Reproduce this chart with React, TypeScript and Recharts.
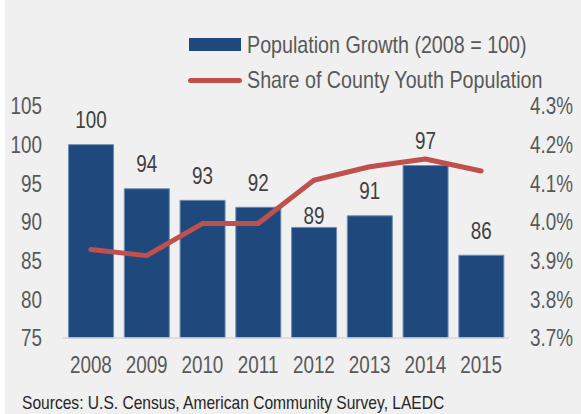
import React from "react";
import {
  ComposedChart,
  Bar,
  Line,
  XAxis,
  YAxis,
  LabelList,
} from "recharts";

// years shown on the x axis
const years = ["2008", "2009", "2010", "2011", "2012", "2013", "2014", "2015"];
// Population Growth (2008 = 100)
const growth = [100, 94.3, 92.8, 91.9, 89.3, 90.8, 97.3, 85.7];
// Share of County Youth Population, in percent
const youthShare = [3.929, 3.913, 3.996, 3.996, 4.108, 4.143, 4.163, 4.132];

const leftTicks = [75, 80, 85, 90, 95, 100, 105];
const rightTicks = [3.7, 3.8, 3.9, 4.0, 4.1, 4.2, 4.3];

// no Arial Narrow here, so squeeze Liberation Sans horizontally
const FONT = '"Liberation Sans", Arial, sans-serif';
const NARROW = 0.82;
const BLUE = "#1F497D";
const RED = "#C0504D";
const GREY = "#595959";

const data = years.map((year, i) => ({
  year,
  growth: growth[i],
  share: youthShare[i],
}));

// the 2012 label sits closer to its bar in the original
const labelOffset = (index: number) => (index === 4 ? 3.5 : 16.5);

const NarrowText = ({ x, y, anchor, dy, size, fill, children }: any) => (
  <g transform={`translate(${x},${y})`}>
    <text
      transform={`scale(${NARROW},1)`}
      textAnchor={anchor}
      dy={dy}
      fill={fill}
      fontSize={size}
      fontFamily={FONT}
    >
      {children}
    </text>
  </g>
);

const BarLabel = (props: any) => {
  const { x, y, width, value, index } = props;
  return (
    <NarrowText x={x + width / 2} y={y - labelOffset(index)} anchor="middle" size={23} fill="#404040">
      {Math.round(value)}
    </NarrowText>
  );
};

const makeTick = (anchor: string, dy: string, fmt: (v: any) => string) => (props: any) => (
  <NarrowText x={props.x} y={props.y} anchor={anchor} dy={dy} size={23} fill={GREY}>
    {fmt(props.payload.value)}
  </NarrowText>
);

const XTick = makeTick("middle", "0.71em", (v) => String(v));
const LeftTick = makeTick("end", "0.355em", (v) => String(v));
const RightTick = makeTick("start", "0.355em", (v) => `${Number(v).toFixed(1)}%`);

const legendText: React.CSSProperties = {
  position: "absolute",
  left: 247,
  fontSize: 24,
  lineHeight: "24px",
  color: GREY,
  whiteSpace: "nowrap",
  transform: `scaleX(${NARROW})`,
  transformOrigin: "0 0",
};

export default function App() {
  return (
    <div
      style={{
        position: "absolute",
        left: 0,
        top: 0,
        width: 581,
        height: 414,
        background: "#fff",
        fontFamily: FONT,
      }}
    >
      <div
        style={{
          position: "absolute",
          left: 5,
          top: 0,
          width: 576,
          height: 414,
          background: "#F0F0F0",
        }}
      />
      {/* legend */}
      <div style={{ position: "absolute", left: 189, top: 38, width: 52, height: 13, background: BLUE }} />
      <div style={{ ...legendText, top: 33 }}>Population Growth (2008 = 100)</div>
      <div
        style={{
          position: "absolute",
          left: 188,
          top: 78,
          width: 54,
          height: 5,
          borderRadius: 3,
          background: RED,
        }}
      />
      <div style={{ ...legendText, top: 68 }}>Share of County Youth Population</div>

      <div style={{ position: "absolute", left: 0, top: 0 }}>
        <ComposedChart
          width={581}
          height={414}
          data={data}
          margin={{ top: 106, right: 0, bottom: 46, left: 0 }}
          barCategoryGap="10%"
        >
          <XAxis
            dataKey="year"
            tick={XTick}
            tickLine={false}
            tickSize={6}
            tickMargin={13}
            height={30}
            axisLine={{ stroke: "#D9D9D9", strokeWidth: 1.5 }}
            interval={0}
          />
          <YAxis
            yAxisId="left"
            orientation="left"
            domain={[75, 105]}
            ticks={leftTicks}
            width={63}
            tick={LeftTick}
            tickLine={false}
            axisLine={false}
            tickSize={6}
            tickMargin={15}
            interval={0}
          />
          <YAxis
            yAxisId="right"
            orientation="right"
            domain={[3.7, 4.3]}
            ticks={rightTicks}
            width={72}
            tick={RightTick}
            tickLine={false}
            axisLine={false}
            tickSize={6}
            tickMargin={15}
            interval={0}
          />
          <Bar
            yAxisId="left"
            dataKey="growth"
            fill={BLUE}
            stroke="#6F8DB3"
            strokeWidth={1}
            isAnimationActive={false}
          >
            <LabelList dataKey="growth" content={BarLabel} />
          </Bar>
          <Line
            yAxisId="right"
            dataKey="share"
            type="linear"
            stroke={RED}
            strokeWidth={5}
            strokeLinecap="round"
            strokeLinejoin="round"
            dot={false}
            isAnimationActive={false}
          />
        </ComposedChart>
      </div>

      <div
        style={{
          position: "absolute",
          left: 22,
          top: 392,
          fontSize: 19,
          lineHeight: "22px",
          color: "#262626",
          whiteSpace: "nowrap",
          transform: `scaleX(${NARROW})`,
          transformOrigin: "0 0",
        }}
      >
        Sources: U.S. Census, American Community Survey, LAEDC
      </div>
    </div>
  );
}
